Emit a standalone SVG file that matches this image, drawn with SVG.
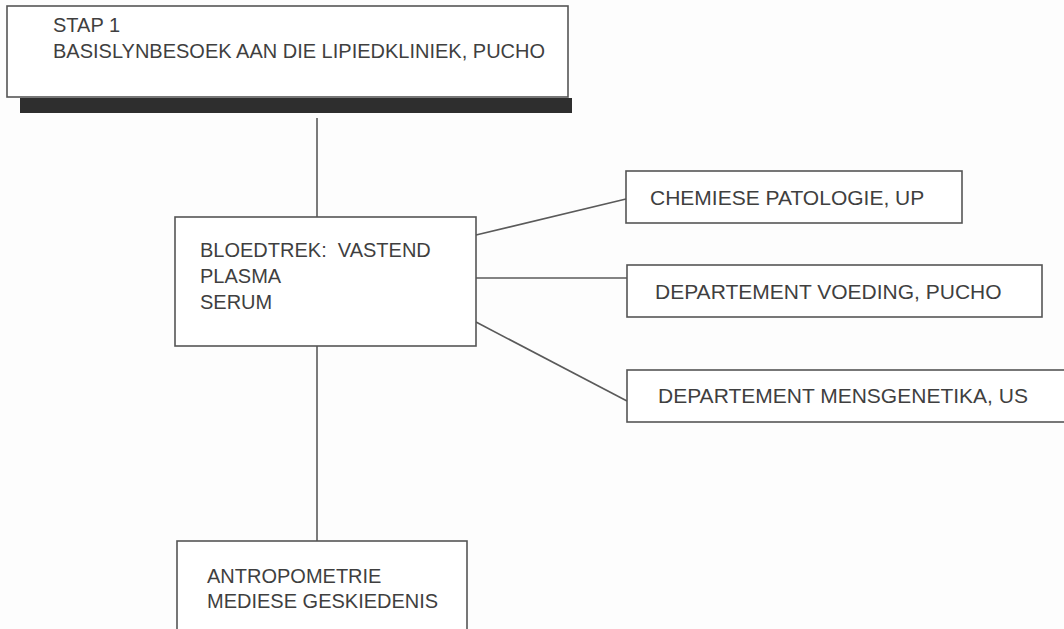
<svg xmlns="http://www.w3.org/2000/svg" width="1064" height="629" viewBox="0 0 1064 629">
  <style>
    .box { fill: #ffffff; stroke: #555555; stroke-width: 1.6; }
    .txt { font-family: "Liberation Sans", Arial, sans-serif; font-size: 20px; fill: #3f3f3f; white-space: pre; }
    .txtr { font-family: "Liberation Sans", Arial, sans-serif; font-size: 21px; fill: #3f3f3f; }
    .conn { stroke: #5a5a5a; stroke-width: 1.6; fill: none; }
  </style>
  <rect x="0" y="0" width="1064" height="629" fill="#fdfdfd"/>

  <g id="connectors">
    <line class="conn" x1="317" y1="118" x2="317" y2="217"/>
    <line class="conn" x1="476" y1="235" x2="626" y2="199"/>
    <line class="conn" x1="476" y1="278" x2="627" y2="278"/>
    <line class="conn" x1="476" y1="322" x2="627" y2="401"/>
    <line class="conn" x1="317" y1="346" x2="317" y2="541"/>
  </g>

  <g id="stap1">
    <rect x="20" y="98" width="552" height="15" fill="#2e2e2e"/>
    <rect class="box" x="7" y="6" width="561" height="91"/>
    <text class="txt" x="53" y="32">STAP 1</text>
    <text class="txt" x="53" y="58">BASISLYNBESOEK AAN DIE LIPIEDKLINIEK, PUCHO</text>
  </g>

  <g id="bloedtrek">
    <rect class="box" x="175" y="217" width="301" height="129"/>
    <text class="txt" x="200" y="257">BLOEDTREK:  VASTEND</text>
    <text class="txt" x="200" y="283">PLASMA</text>
    <text class="txt" x="200" y="309">SERUM</text>
  </g>

  <g id="chemiese">
    <rect class="box" x="626" y="171" width="336" height="52"/>
    <text class="txtr" x="650" y="205">CHEMIESE PATOLOGIE, UP</text>
  </g>

  <g id="voeding">
    <rect class="box" x="627" y="265" width="415" height="52"/>
    <text class="txtr" x="655" y="299">DEPARTEMENT VOEDING, PUCHO</text>
  </g>

  <g id="mensgenetika">
    <rect class="box" x="627" y="370" width="440" height="52"/>
    <text class="txtr" x="658" y="403">DEPARTEMENT MENSGENETIKA, US</text>
  </g>

  <g id="antropometrie">
    <rect class="box" x="177" y="541" width="290" height="100"/>
    <text class="txt" x="207" y="583">ANTROPOMETRIE</text>
    <text class="txt" x="207" y="608">MEDIESE GESKIEDENIS</text>
  </g>
</svg>
